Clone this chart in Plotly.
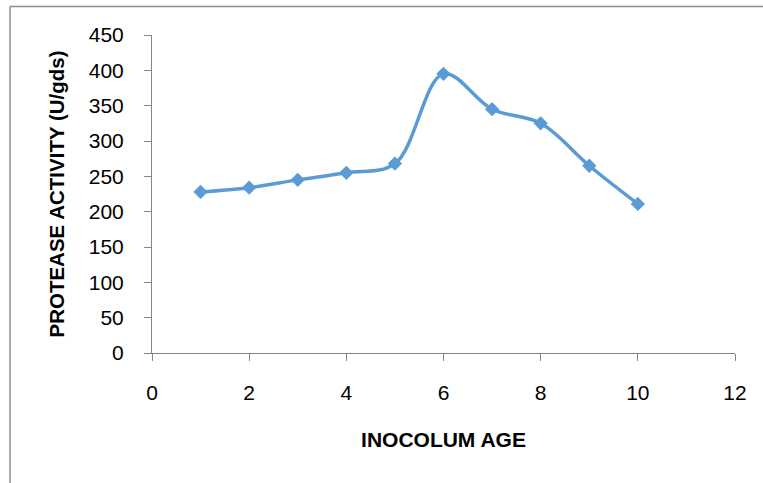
import plotly.graph_objects as go

inoculum_age = [1, 2, 3, 4, 5, 6, 7, 8, 9, 10]
protease_activity = [228, 234, 245, 255, 268, 395, 345, 325, 265, 211]
x_ticks = [0, 2, 4, 6, 8, 10, 12]
y_ticks = [0, 50, 100, 150, 200, 250, 300, 350, 400, 450]

W, H = 763, 483
L, R, T, B = 152, 28, 35, 130
pw, ph = W - L - R, H - T - B

def px(xp):
    return (xp - L) / pw

def py(yp):
    return (H - B - yp) / ph

fig = go.Figure()
fig.add_trace(go.Scatter(
    x=inoculum_age, y=protease_activity, mode="lines+markers",
    line=dict(color="#5B9BD5", width=3.5, shape="spline", smoothing=1.0),
    marker=dict(symbol="diamond", size=11, color="#5B9BD5"),
    showlegend=False,
))

font = "Liberation Sans, Arial, sans-serif"
fig.update_layout(
    width=W, height=H, autosize=False,
    margin=dict(l=L, r=R, t=T, b=B, pad=0),
    paper_bgcolor="white", plot_bgcolor="white",
    font=dict(family=font, color="black"),
    xaxis=dict(
        range=[0, 12], tickvals=x_ticks, ticktext=[str(v) for v in x_ticks],
        showgrid=False, zeroline=False, showline=True, linecolor="#868686", linewidth=1,
        ticks="outside", ticklen=7, tickcolor="#868686", tickwidth=1,
        tickfont=dict(size=21, family=font), ticklabelstandoff=14,
        title=dict(text="<b>INOCOLUM AGE</b>", font=dict(size=21, family=font), standoff=29),
    ),
    yaxis=dict(
        range=[0, 450], tickvals=y_ticks, ticktext=[str(v) for v in y_ticks],
        showgrid=False, zeroline=False, showline=True, linecolor="#868686", linewidth=1,
        ticks="outside", ticklen=7, tickcolor="#868686", tickwidth=1,
        tickfont=dict(size=21, family=font), ticklabelstandoff=16,
        title=dict(text="<b>PROTEASE ACTIVITY (U/gds)</b>", font=dict(size=20.5, family=font), standoff=18),
    ),
    shapes=[
        dict(type="line", xref="paper", yref="paper", x0=px(10), x1=px(10), y0=py(6.5), y1=py(H + 5),
             line=dict(color="#8c8c8c", width=1.5)),
        dict(type="line", xref="paper", yref="paper", x0=px(10), x1=px(W + 5), y0=py(6.5), y1=py(6.5),
             line=dict(color="#8c8c8c", width=1.5)),
    ],
)

fig.write_html("out.html", config={"displayModeBar": False},
               post_script="document.body.style.margin='0px';")
